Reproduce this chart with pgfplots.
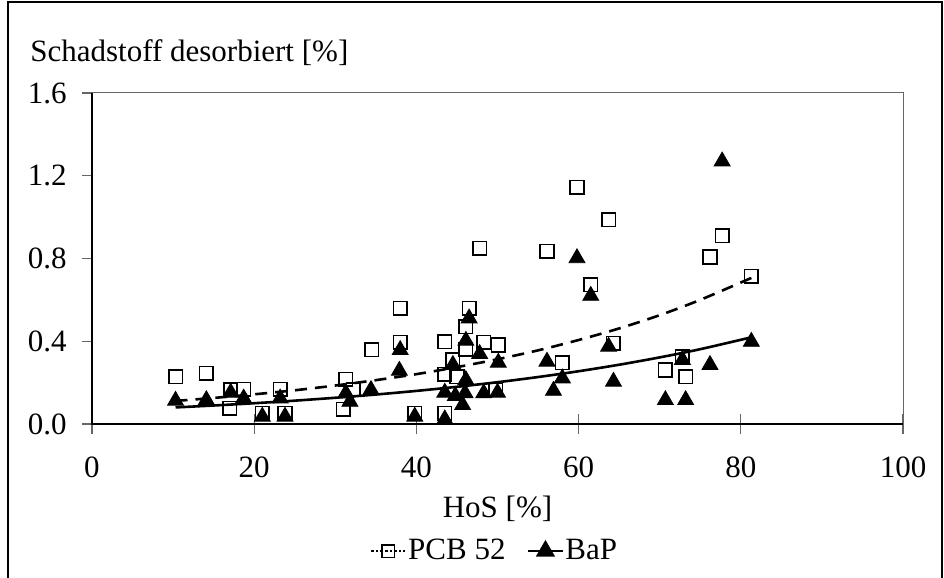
\documentclass[border=0pt]{standalone}
\usepackage{pgfplots}
\pgfplotsset{compat=1.18}
\usepackage{fontspec}
\setmainfont{Liberation Serif}
\begin{document}
\begin{tikzpicture}[font=\fontsize{15.5}{18}\selectfont]
\useasboundingbox (0,0) rectangle (472pt,289pt);
\draw[line width=1.2pt] (4pt,-5pt) -- (4pt,288pt) -- (471pt,288pt) -- (471pt,-5pt);
\begin{axis}[at={(46pt,77pt)}, anchor=south west, scale only axis,
  width=405.5pt, height=165.5pt,
  xmin=0, xmax=100, ymin=0, ymax=1.6,
  xtick={0,20,40,60,80,100}, ytick={0,0.4,0.8,1.2,1.6},
  tick pos=left,
  /pgf/number format/assume math mode=true,
  yticklabel style={/pgf/number format/fixed, /pgf/number format/fixed zerofill, /pgf/number format/precision=1, anchor=east, inner sep=0pt, xshift=-7.5pt},
  xticklabel style={anchor=north, inner sep=0pt, yshift=-13.5pt},
  axis line style={draw=gray!80!black, line width=0.5pt},
  major tick length=5pt,
  xtick align=center, ytick align=outside,
  xtick style={/pgfplots/major tick length=10pt},
  tick style={draw=gray!80!black, line width=0.6pt},
  clip=false,
  legend style={at={(0.496,-0.384)}, anchor=center, draw=none, fill=none,
    legend columns=2, /tikz/every even column/.append style={column sep=10pt},
    inner xsep=0pt, nodes={inner sep=0.8pt}},
]
\addlegendimage{black, densely dotted, line width=1.3pt, mark=square, mark options={solid, line width=0.8pt, mark size=3.2pt}}
\addlegendentry{PCB 52}
\addlegendimage{black, solid, line width=1.2pt, mark=triangle*, mark options={mark size=4.4pt}}
\addlegendentry{BaP}

\draw[black, line width=1pt] (rel axis cs:0,1) -- (rel axis cs:0,0) -- (rel axis cs:1,0);

\addplot[forget plot, only marks, black, mark=square, mark size=3.4pt, mark options={line width=0.8pt}] coordinates {
(10.3,0.229) (14.1,0.245) (17.1,0.165) (17.0,0.076) (18.7,0.168) (21.0,0.052)
(23.2,0.168) (23.8,0.052) (31.3,0.216) (31.0,0.071) (32.2,0.165) (34.5,0.360)
(38.0,0.560) (38.0,0.394) (39.8,0.052) (43.5,0.398) (43.5,0.240) (44.5,0.310)
(43.5,0.052) (45.0,0.229) (46.5,0.560) (46.1,0.471) (46.1,0.361) (48.3,0.394)
(47.8,0.850) (50.1,0.382) (49.8,0.165) (56.1,0.834) (59.8,1.144) (63.7,0.987)
(61.5,0.673) (58.0,0.297) (64.3,0.391) (70.7,0.261) (72.8,0.326) (73.2,0.229)
(76.2,0.807) (77.7,0.911) (81.3,0.713)
};
\addplot[forget plot, only marks, black, mark=triangle*, mark size=4.6pt] coordinates {
(10.3,0.113) (14.1,0.116) (17.1,0.152) (18.7,0.124) (21.0,0.036) (23.2,0.124)
(23.8,0.036) (31.3,0.149) (31.8,0.108) (34.4,0.165) (38.0,0.358) (37.9,0.258)
(39.8,0.036) (43.5,0.152) (43.5,0.023) (44.5,0.286) (44.8,0.136) (45.7,0.092)
(46.0,0.149) (46.1,0.213) (46.5,0.511) (46.1,0.403) (47.8,0.339) (48.3,0.149)
(50.1,0.297) (50.0,0.152) (56.1,0.302) (56.9,0.161) (58.0,0.221) (59.8,0.802)
(61.5,0.620) (63.7,0.374) (64.3,0.205) (70.7,0.116) (72.8,0.310) (73.2,0.116)
(76.2,0.286) (77.7,1.270) (81.3,0.398)
};
\addplot[forget plot, black, line width=1.3pt, dash pattern=on 6pt off 4pt, smooth] coordinates {
(10.3,0.1115) (15,0.126) (20,0.1435) (25,0.163) (30,0.186) (35,0.212) (40,0.241)
(45,0.275) (50,0.313) (55,0.356) (60,0.406) (65,0.462) (70,0.526) (75,0.600) (81.3,0.706)
};
\addplot[forget plot, black, line width=1.3pt, smooth] coordinates {
(10.3,0.0801) (15,0.0894) (20,0.1004) (25,0.1128) (30,0.1268) (35,0.1424) (40,0.160)
(45,0.1798) (50,0.202) (55,0.227) (60,0.255) (65,0.2865) (70,0.322) (75,0.3616) (81.3,0.419)
};
\end{axis}
\node[anchor=base west, inner sep=0pt] at (15pt,258pt) {Schadstoff desorbiert [\%]};
\node[anchor=base, inner sep=0pt] at (248.75pt,30pt) {HoS [\%]};
\end{tikzpicture}
\end{document}
